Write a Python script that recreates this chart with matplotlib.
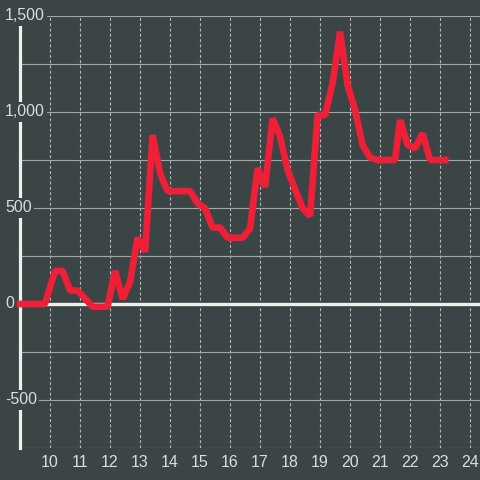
import matplotlib
matplotlib.use("Agg")
import matplotlib.pyplot as plt
from matplotlib.transforms import blended_transform_factory

plt.rcParams["font.family"] = ["Liberation Sans", "DejaVu Sans"]
plt.rcParams["lines.scale_dashes"] = False

# --------------------------------------------------
# Data (hour of day vs value)
# --------------------------------------------------
hours = [9.0, 9.83, 10.17, 10.42, 10.67, 10.92, 11.42, 11.92, 12.17, 12.42,
         12.67, 12.92, 13.17, 13.42, 13.67, 13.92, 14.67, 14.92, 15.17, 15.42,
         15.67, 15.92, 16.42, 16.67, 16.92, 17.17, 17.42, 17.67, 17.92, 18.42,
         18.67, 18.92, 19.17, 19.42, 19.67, 19.92, 20.17, 20.42, 20.67, 20.92,
         21.5, 21.67, 21.92, 22.17, 22.42, 22.67, 23.17]
values = [0, 0, 172, 172, 70, 70, -14, -14, 172, 26,
          116, 345, 273, 880, 680, 588, 588, 524, 498, 398,
          398, 345, 345, 394, 707, 610, 967, 872, 698, 498,
          458, 984, 984, 1150, 1418, 1141, 1010, 828, 762, 750,
          750, 958, 828, 811, 889, 750, 750]

x_ticks = list(range(10, 25))
y_grid = [-750, -500, -250, 0, 250, 500, 750, 1000, 1250, 1500]
y_labels = {-500: "-500", 0: "0", 500: "500", 1000: "1,000", 1500: "1,500"}

bg = "#3b4545"
red = "#ef1f38"
light = "#eef0ea"

fig = plt.figure(figsize=(4.8, 4.8), dpi=100, facecolor=bg)
ax = fig.add_axes([20 / 480, 32 / 480, 460 / 480, 432 / 480], facecolor=bg)

ax.set_xlim(9, 9 + 460 / 30)
ax.set_ylim(-750, 1500)

# grid
ax.set_yticks(y_grid)
ax.set_xticks(x_ticks)
ax.yaxis.grid(True, color="#a4a6a4", linewidth=0.8, linestyle="-")
ax.xaxis.grid(True, color="#b4b6b4", linewidth=0.8, linestyle=(0, (2.2, 1.6)))
ax.set_axisbelow(True)

# zero line
ax.axhline(0, color=light, linewidth=2.4, zorder=2)

# the series
ax.plot(hours, values, color=red, linewidth=4.8, solid_capstyle="projecting",
        solid_joinstyle="bevel", zorder=3, clip_on=False)

# spines
for side in ["top", "right", "bottom"]:
    ax.spines[side].set_visible(False)
ax.spines["left"].set_color(light)
ax.spines["left"].set_linewidth(2.3)
ax.spines["left"].set_zorder(2.5)

# ticks
ax.tick_params(axis="both", length=0)
ax.tick_params(axis="x", colors="#dcdcdc", labelsize=11.5, pad=5)
ax.set_yticklabels([])

# y labels over the axis with background boxes
trans = blended_transform_factory(fig.transFigure, ax.transData)
for v, lab in y_labels.items():
    ax.text(5 / 480, v, lab, transform=trans, ha="left", va="center",
            color="#dcdcdc", fontsize=11.5, zorder=6, clip_on=False,
            bbox=dict(facecolor=bg, edgecolor="none", pad=1.5))

fig.savefig("out.png", dpi=100, facecolor=bg)
